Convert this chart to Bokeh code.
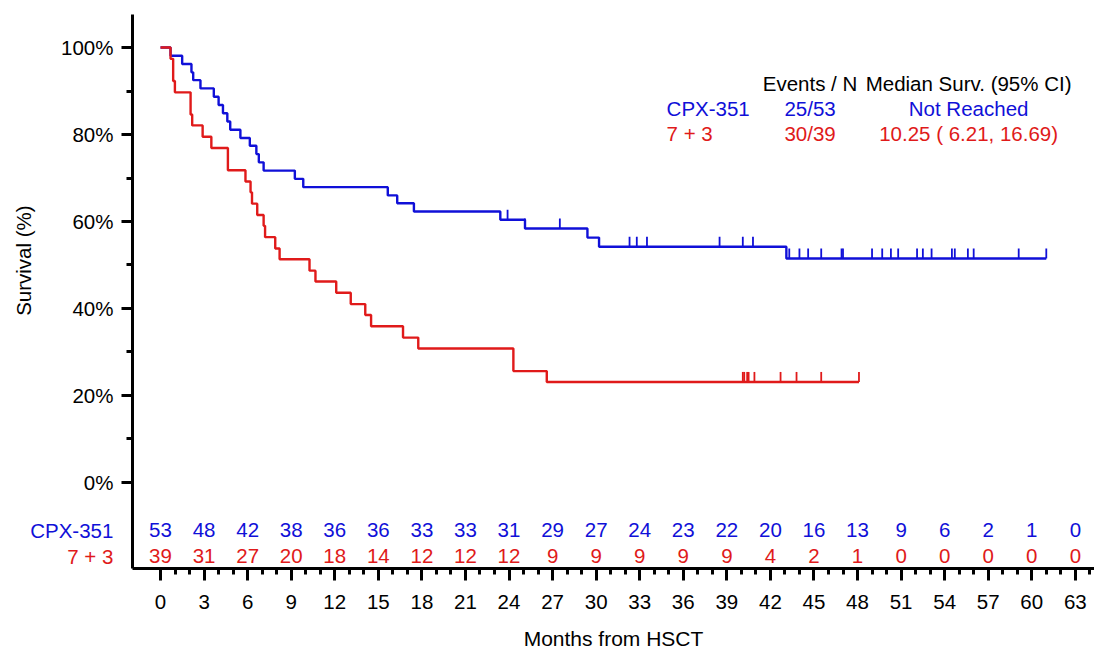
import math
from bokeh.plotting import figure
from bokeh.models import FixedTicker, PrintfTickFormatter, Range1d
from bokeh.embed import file_html
from bokeh.resources import INLINE
from bokeh.core.properties import value

# ---------------- data ----------------
# Kaplan-Meier step curves (time in months, survival in %)
cpx_time = [0, 0.69, 1.49, 2.13, 2.25, 2.75, 3.67, 4.0, 4.3, 4.6, 4.8, 5.5, 6.15, 6.6, 6.77, 7.1,
            9.25, 9.83, 15.65, 16.3, 17.45, 23.4, 25.1, 29.4, 30.2, 43.1, 61.0]
cpx_surv = [100, 98.1, 96.2, 94.3, 92.5, 90.6, 88.7, 86.8, 84.9, 83.0, 81.1, 79.2, 77.4, 75.5, 73.6, 71.7,
            69.8, 67.9, 66.0, 64.2, 62.3, 60.4, 58.4, 56.3, 54.2, 51.5, 51.5]
cpx_censor = [23.9, 25.1, 27.5, 32.3, 32.8, 33.5, 38.5, 40.1, 40.8,
              43.3, 44.0, 44.6, 45.5, 46.9, 47.0, 49.0, 49.7, 50.3, 50.8, 52.1, 52.5, 53.1,
              54.5, 54.7, 55.6, 56.0, 59.1, 61.0]

ctl_time = [0, 0.69, 0.87, 0.99, 2.07, 2.18, 2.9, 3.5, 4.64, 5.85, 6.2, 6.3, 6.66, 7.1, 7.2, 7.9, 8.2,
            10.26, 10.67, 12.1, 13.1, 14.1, 14.5, 16.7, 17.75, 24.3, 26.6, 48.1]
ctl_surv = [100, 97.4, 92.3, 89.7, 84.6, 82.1, 79.5, 76.9, 71.8, 69.2, 66.7, 64.1, 61.5, 59.0, 56.4, 53.8, 51.3,
            48.7, 46.2, 43.6, 41.0, 38.5, 35.9, 33.3, 30.8, 25.6, 23.1, 23.1]
ctl_censor = [40.1, 40.2, 40.4, 40.5, 40.9, 42.7, 43.8, 45.5, 48.1]

# Numbers at risk
risk_months = [0, 3, 6, 9, 12, 15, 18, 21, 24, 27, 30, 33, 36, 39, 42, 45, 48, 51, 54, 57, 60, 63]
cpx_risk = [53, 48, 42, 38, 36, 36, 33, 33, 31, 29, 27, 24, 23, 22, 20, 16, 13, 9, 6, 2, 1, 0]
ctl_risk = [39, 31, 27, 20, 18, 14, 12, 12, 12, 9, 9, 9, 9, 9, 4, 2, 1, 0, 0, 0, 0, 0]

groups = ["CPX-351", "7 + 3"]
events_n = ["25/53", "30/39"]
median_txt = ["Not Reached", "10.25 ( 6.21, 16.69)"]

x_ticks = list(range(0, 64, 3))
y_ticks = [0, 20, 40, 60, 80, 100]

# ---------------- styling ----------------
BLUE = "#1010d8"
RED = "#e01a1a"
FONT = "Liberation Sans"
FS = "20.5px"
ROW_Y = [-11.0, -17.0]


def surv_at(times, survs, t):
    s = survs[0]
    for ti, si in zip(times, survs):
        if ti <= t:
            s = si
    return s


p = figure(width=1094, height=655,
           x_range=Range1d(-1.93, 64.32), y_range=Range1d(-19.8, 107.6),
           output_backend="svg", toolbar_location=None,
           min_border_left=132, min_border_right=0, min_border_top=14, min_border_bottom=87)
p.outline_line_color = None
p.xgrid.visible = False
p.ygrid.visible = False

# curves
for t, s, cens, col in [(cpx_time, cpx_surv, cpx_censor, BLUE), (ctl_time, ctl_surv, ctl_censor, RED)]:
    p.step(t, s, mode="after", line_color=col, line_width=2.4)
    cs = [surv_at(t, s, c) for c in cens]
    p.segment(x0=cens, y0=cs, x1=cens, y1=[v + 2.3 for v in cs], line_color=col, line_width=1.8)

# risk table
for vals, yrow, col in [(cpx_risk, ROW_Y[0], BLUE), (ctl_risk, ROW_Y[1], RED)]:
    p.text(x=risk_months, y=[yrow] * len(vals), text=[str(v) for v in vals],
           text_align="center", text_baseline="middle", text_color=col,
           text_font=value(FONT), text_font_size=FS)

# group names left of the axis (drawn at overlay level so they are not clipped)
gl = p.text(x=[-3.25, -3.25], y=ROW_Y, text=groups, text_color=[BLUE, RED],
            text_align="right", text_baseline="middle",
            text_font=value(FONT), text_font_size=FS)
gl.level = "overlay"

# y-axis title
yl = p.text(x=[-9.45], y=[51.0], text=["Survival (%)"], angle=math.pi / 2,
            text_align="center", text_baseline="middle", text_color="black",
            text_font=value(FONT), text_font_size=FS)
yl.level = "overlay"

# legend block
p.text(x=[44.73, 55.65], y=[91.7, 91.7], text=["Events / N", "Median Surv. (95% CI)"],
       text_align="center", text_baseline="middle", text_color="black",
       text_font=value(FONT), text_font_size=FS)
for i, (yrow, col) in enumerate([(86.0, BLUE), (80.2, RED)]):
    p.text(x=[34.85], y=[yrow], text=[groups[i]], text_align="left", text_baseline="middle",
           text_color=col, text_font=value(FONT), text_font_size=FS)
    p.text(x=[44.73, 55.65], y=[yrow, yrow], text=[events_n[i], median_txt[i]],
           text_align="center", text_baseline="middle", text_color=col,
           text_font=value(FONT), text_font_size=FS)

# axes
xa = p.xaxis[0]
xa.ticker = FixedTicker(ticks=x_ticks, minor_ticks=list(range(0, 65)))
xa.axis_label = "Months from HSCT"
ya = p.yaxis[0]
ya.ticker = FixedTicker(ticks=y_ticks, minor_ticks=[10, 30, 50, 70, 90])
ya.formatter = PrintfTickFormatter(format="%d%%")
ya.axis_label = None

for ax in (xa, ya):
    ax.axis_line_width = 3
    ax.axis_line_color = "black"
    ax.major_tick_line_width = 3
    ax.minor_tick_line_width = 3
    ax.major_tick_in = 0
    ax.minor_tick_in = 0
    ax.major_label_text_font = FONT
    ax.major_label_text_font_size = FS
    ax.major_label_text_color = "black"
    ax.axis_label_text_font = FONT
    ax.axis_label_text_font_size = "21px"
    ax.axis_label_text_font_style = "normal"
    ax.axis_label_text_color = "black"

xa.major_tick_out = 12
xa.minor_tick_out = 6
xa.major_label_standoff = 14
xa.axis_label_standoff = 15
ya.major_tick_out = 11
ya.minor_tick_out = 6
ya.major_label_standoff = 8

open("out.html", "w").write(file_html(p, INLINE))
